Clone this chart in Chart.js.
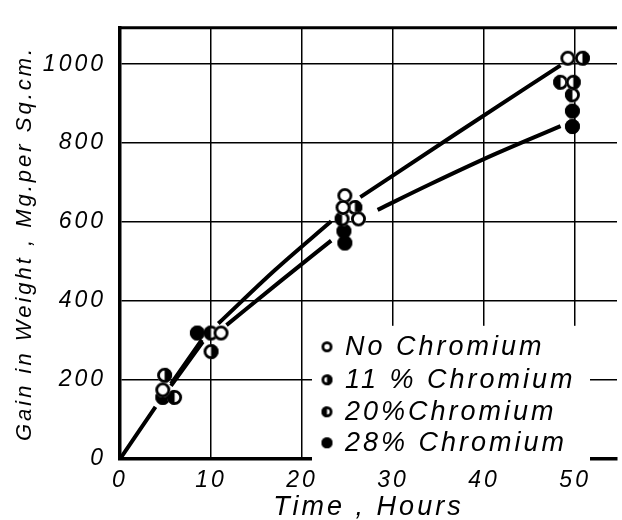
<!DOCTYPE html>
<html>
<head>
<meta charset="utf-8">
<script src="https://cdn.jsdelivr.net/npm/chart.js@4"></script>
<style>
  html, body { margin: 0; padding: 0; background: #fff; }
  #wrap { width: 622px; height: 520px; }
</style>
</head>
<body>
<div id="wrap"><canvas id="gainChart"></canvas></div>
<script>
const noChromiumHours = [4.7, 11.1, 24.7, 24.5, 26.2, 49.2];
const noChromiumGain  = [175, 319, 667, 637, 608, 1015];
const cr11Hours = [4.9, 10.0, 25.8, 50.8, 49.8];
const cr11Gain  = [212, 272, 637, 1015, 954];
const cr20Hours = [6.0, 10.0, 24.4, 48.4, 49.7];
const cr20Gain  = [156, 319, 608, 954, 922];
const cr28Hours = [4.7, 8.5, 24.6, 24.7, 49.7, 49.7];
const cr28Gain  = [156, 319, 577, 547, 881, 842];

// the two hand-drawn curves (null = break in the line)
const upperCurveHours = [0, 3.9, 4.5, 5.6, 9.0, 9.9, 10.8, 17, 23.2, 24.8, 26.4, 37, 48.4];
const upperCurveGain  = [0, 132, null, 190, 302, null, 343, 478, 602, null, 663, 825, 997];
const lowerCurveHours = [5.6, 9.1, 10.4, 11.7, 17.5, 23.2, 25.5, 28.3, 34, 41, 48.4];
const lowerCurveGain  = [185, 297, null, 339, 448, 553, null, 631, 695, 770, 843];

const xTicks = [0, 10, 20, 30, 40, 50];
const yTicks = [0, 200, 400, 600, 800, 1000];
const legendLabels = ['No Chromium', '11 % Chromium', '20%Chromium', '28% Chromium'];

const FONT = '"Liberation Sans", Arial, sans-serif';

function pts(xs, ys) {
    return xs.map((x, i) => ({ x: x, y: ys[i] }));
}

// circle markers: open, right half black, left half black, solid
function makeMarker(kind, r) {
    const c = document.createElement('canvas');
    const s = Math.ceil(2 * r + 2);
    c.width = s; c.height = s;
    const g = c.getContext('2d');
    const m = s / 2;
    g.beginPath();
    g.arc(m, m, r, 0, 2 * Math.PI);
    g.fillStyle = kind === 'full' ? '#000' : '#fff';
    g.fill();
    if (kind === 'right' || kind === 'left') {
        g.beginPath();
        if (kind === 'right') g.arc(m, m, r, -Math.PI / 2, Math.PI / 2);
        else g.arc(m, m, r, Math.PI / 2, 3 * Math.PI / 2);
        g.closePath();
        g.fillStyle = '#000';
        g.fill();
    }
    g.beginPath();
    g.arc(m, m, r - 1.4, 0, 2 * Math.PI);
    g.lineWidth = 2.8;
    g.strokeStyle = '#000';
    g.stroke();
    return c;
}

const markerKinds = ['open', 'right', 'left', 'full'];
const plotMarkers = markerKinds.map(k => makeMarker(k, 7.5));
const legendMarkers = markerKinds.map(k => makeMarker(k, 5.5));

const legendPlugin = {
    id: 'handLegend',
    beforeDraw(chart) {
        chart.ctx.letterSpacing = '3px';
    },
    beforeDatasetsDraw(chart) {
        const ctx = chart.ctx, a = chart.chartArea;
        ctx.save();
        // blank patch behind the key
        ctx.fillStyle = '#fff';
        ctx.fillRect(a.left + 192, a.top + 298, 278, 137);
        // heavy top frame
        ctx.strokeStyle = '#000';
        ctx.lineWidth = 3;
        ctx.beginPath();
        ctx.moveTo(a.left - 1.5, a.top);
        ctx.lineTo(a.right, a.top);
        ctx.stroke();
        ctx.restore();
    },
    afterDraw(chart) {
        const ctx = chart.ctx, a = chart.chartArea;
        ctx.save();
        ctx.letterSpacing = '3px';
        ctx.font = 'italic 27px ' + FONT;
        ctx.fillStyle = '#000';
        ctx.textBaseline = 'middle';
        const rows = [319, 352, 384, 415];
        legendLabels.forEach((lab, i) => {
            const m = legendMarkers[i];
            ctx.drawImage(m, a.left + 207 - m.width / 2, a.top + rows[i] - m.height / 2);
            ctx.fillText(lab, a.left + 225, a.top + rows[i] + 1);
        });
        ctx.restore();
    }
};

const ctx = document.getElementById('gainChart').getContext('2d');
new Chart(ctx, {
    type: 'scatter',
    data: {
        datasets: [
            { label: legendLabels[0], data: pts(noChromiumHours, noChromiumGain), pointStyle: plotMarkers[0], order: 1 },
            { label: legendLabels[1], data: pts(cr11Hours, cr11Gain), pointStyle: plotMarkers[1], order: 1 },
            { label: legendLabels[2], data: pts(cr20Hours, cr20Gain), pointStyle: plotMarkers[2], order: 1 },
            { label: legendLabels[3], data: pts(cr28Hours, cr28Gain), pointStyle: plotMarkers[3], order: 1 },
            {
                label: 'upper curve',
                data: pts(upperCurveHours, upperCurveGain),
                showLine: true, spanGaps: false,
                borderColor: '#000', borderWidth: 4, pointRadius: 0,
                cubicInterpolationMode: 'monotone', order: 2
            },
            {
                label: 'lower curve',
                data: pts(lowerCurveHours, lowerCurveGain),
                showLine: true, spanGaps: false,
                borderColor: '#000', borderWidth: 4, pointRadius: 0,
                cubicInterpolationMode: 'monotone', order: 2
            }
        ]
    },
    options: {
        responsive: true,
        maintainAspectRatio: false,
        animation: false,
        layout: { padding: { top: 10, right: 0, left: 0, bottom: 0 } },
        plugins: {
            legend: { display: false },
            tooltip: { enabled: false }
        },
        scales: {
            x: {
                type: 'linear',
                min: 0,
                max: 54.6,
                afterBuildTicks: s => { s.ticks = xTicks.map(v => ({ value: v })); },
                afterFit: s => { s.height = 61; },
                ticks: {
                    color: '#000',
                    padding: 8,
                    callback: v => String(v),
                    font: { family: FONT, size: 23, style: 'italic' }
                },
                grid: { color: '#000', lineWidth: 1.5, drawTicks: false },
                border: { color: '#000', width: 3.5 },
                title: {
                    display: true,
                    text: 'Time , Hours',
                    color: '#000',
                    padding: { top: 0, bottom: -4 },
                    font: { family: FONT, size: 27, style: 'italic' }
                }
            },
            y: {
                min: 0,
                max: 1092,
                afterBuildTicks: s => { s.ticks = yTicks.map(v => ({ value: v })); },
                afterFit: s => { s.width = 120; },
                ticks: {
                    color: '#000',
                    padding: 14,
                    callback: v => String(v),
                    font: { family: FONT, size: 23, style: 'italic' }
                },
                grid: { color: '#000', lineWidth: 1.5, drawTicks: false },
                border: { color: '#000', width: 3.5 },
                title: {
                    display: true,
                    text: 'Gain in Weight , Mg.per Sq.cm.',
                    color: '#000',
                    padding: { top: 12, bottom: 0 },
                    font: { family: FONT, size: 22, style: 'italic' }
                }
            }
        }
    },
    plugins: [legendPlugin]
});
</script>
</body>
</html>
